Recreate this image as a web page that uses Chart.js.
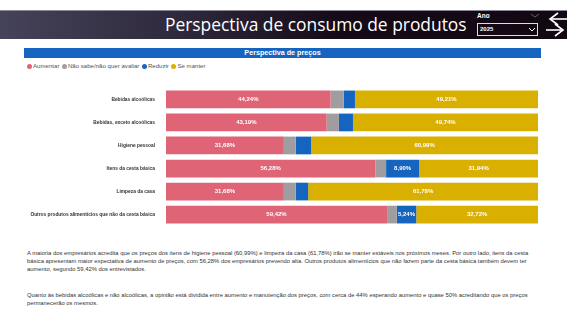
<!DOCTYPE html>
<html>
<head>
<meta charset="utf-8">
<script src="https://cdn.jsdelivr.net/npm/chart.js@4"></script>
<style>
  html,body{margin:0;padding:0;background:#fff;width:567px;height:328px;overflow:hidden;font-family:"Open Sans","Noto Sans",sans-serif;}
  #header{position:absolute;left:0;top:10px;width:567px;height:29px;background:linear-gradient(90deg,#45435a 0%,#2c2638 35%,#150a17 60%,#120812 100%);border-top:1px solid #8a8898;box-sizing:border-box;}
  #title{position:absolute;left:0;top:10px;width:565px;color:#fff;font-size:17.4px;line-height:29px;font-family:"Open Sans",sans-serif;}
  #title span{position:absolute;left:165px;white-space:nowrap;}
  #ano{position:absolute;left:477px;top:12px;color:#fff;font-size:6.5px;font-weight:bold;font-family:"Liberation Sans",sans-serif;}
  #dd{position:absolute;left:477px;top:23px;width:61px;height:13px;border:1px solid #ddd;box-sizing:border-box;color:#fff;font-size:6px;font-weight:bold;font-family:"Liberation Sans",sans-serif;line-height:11px;padding-left:2px;}
  #banner{position:absolute;left:24px;top:48px;width:517px;height:10px;background:#1565c0;color:#fff;text-align:center;font-size:7.2px;font-weight:bold;line-height:10px;font-family:"Liberation Sans",sans-serif;}
  #legend{position:absolute;left:27px;top:62px;font-size:6.1px;color:#555;font-family:"Liberation Sans",sans-serif;white-space:nowrap;}
  #legend .it{margin-right:2.5px;}
  #legend .dot{display:inline-block;width:5px;height:5px;border-radius:50%;margin-right:1px;vertical-align:-0.5px;}
  #chartwrap{position:absolute;left:0;top:82px;width:567px;height:150px;}
  .txt{position:absolute;left:27px;font-size:5.85px;line-height:8px;color:#333;font-family:"Liberation Sans",sans-serif;white-space:nowrap;}
</style>
</head>
<body>
<div id="header"></div>
<div id="title"><span>Perspectiva de consumo de produtos</span></div>
<div id="ano">Ano</div>
<svg style="position:absolute;left:530px;top:13px" width="10" height="6"><polyline points="1,1 5,4 9,1" fill="none" stroke="#777" stroke-width="0.8"/></svg>
<div id="dd">2025</div>
<svg style="position:absolute;left:528px;top:27px" width="8" height="6"><polyline points="1,1 4,4 7,1" fill="none" stroke="#fff" stroke-width="1"/></svg>
<svg style="position:absolute;left:546px;top:11px" width="21" height="27">
  <polyline points="12,2 4,8 12,14" fill="none" stroke="#fff" stroke-width="1.6"/>
  <line x1="4" y1="8" x2="21" y2="8" stroke="#fff" stroke-width="1.6"/>
  <polyline points="9,13 17,19 9,25" fill="none" stroke="#fff" stroke-width="1.6"/>
  <line x1="0" y1="19" x2="17" y2="19" stroke="#fff" stroke-width="1.6"/>
</svg>
<div id="banner">Perspectiva de preços</div>
<div id="legend"></div>
<div id="chartwrap"><canvas id="c" width="567" height="150"></canvas></div>
<div class="txt" style="top:249px">A maioria dos empresários acredita que os preços dos itens de higiene pessoal (60,99%) e limpeza da casa (61,78%) irão se manter estáveis nos próximos meses. Por outro lado, itens da cesta<br>básica apresentam maior expectativa de aumento de preços, com 56,28% dos empresários prevendo alta. Outros produtos alimentícios que não fazem parte da cesta básica também devem ter<br>aumento, segundo 59,42% dos entrevistados.</div>
<div class="txt" style="top:291px">Quanto às bebidas alcoólicas e não alcoólicas, a opinião está dividida entre aumento e manutenção dos preços, com cerca de 44% esperando aumento e quase 50% acreditando que os preços<br>permanecerão os mesmos.</div>
<script>
const categories = ["Bebidas alcoólicas","Bebidas, exceto alcoólicas","Higiene pessoal","Itens da cesta básica","Limpeza da casa","Outros produtos alimentícios que não da cesta básica"];
const seriesNames = ["Aumentar","Não sabe/não quer avaliar","Reduzir","Se manter"];
const aumentar = [44.24, 43.19, 31.68, 56.28, 31.68, 59.42];
const naoSabe  = [3.50, 3.30, 3.20, 2.88, 3.20, 2.62];
const reduzir  = [3.05, 3.77, 4.13, 8.90, 3.34, 5.24];
const seManter = [49.21, 49.74, 60.99, 31.94, 61.78, 32.72];
const colors = ["#df6476","#a09da0","#1565c0","#d9af00"];

const lg = document.getElementById('legend');
seriesNames.forEach((n,i)=>{
  const s=document.createElement('span');s.className='it';
  s.innerHTML='<span class="dot" style="background:'+colors[i]+'"></span>'+n;
  lg.appendChild(s);
});

const labelPlugin = {
  id:'inlabels',
  afterDatasetsDraw(chart){
    const ctx=chart.ctx;
    ctx.save();
    ctx.font='bold 6px "Liberation Sans", sans-serif';
    ctx.fillStyle='#fff';
    ctx.textAlign='center';ctx.textBaseline='middle';
    chart.data.datasets.forEach((ds,di)=>{
      const meta=chart.getDatasetMeta(di);
      meta.data.forEach((bar,i)=>{
        const v=ds.data[i];
        if(v>5){
          const x=(bar.x+bar.base)/2;
          ctx.fillText(v.toFixed(2).replace('.',',')+'%',x,bar.y);
        }
      });
    });
    ctx.restore();
  }
};

const vals=[aumentar,naoSabe,reduzir,seManter];
new Chart(document.getElementById('c'),{
  type:'bar',
  data:{labels:categories,datasets:seriesNames.map((n,i)=>({label:n,data:vals[i],backgroundColor:colors[i],borderWidth:0,barPercentage:0.77,categoryPercentage:1}))},
  options:{
    indexAxis:'y',responsive:false,animation:false,
    layout:{padding:{left:0,right:29,top:0,bottom:0}},
    plugins:{legend:{display:false},tooltip:{enabled:false}},
    scales:{
      x:{stacked:true,min:0,max:100,display:false},
      y:{stacked:true,grid:{display:false},border:{display:false},
         ticks:{color:'#333',padding:3,font:{size:4.85,weight:'bold',family:'"Liberation Sans", sans-serif'}},
         afterFit(s){s.width=166;}}
    }
  },
  plugins:[labelPlugin]
});
</script>
</body>
</html>
